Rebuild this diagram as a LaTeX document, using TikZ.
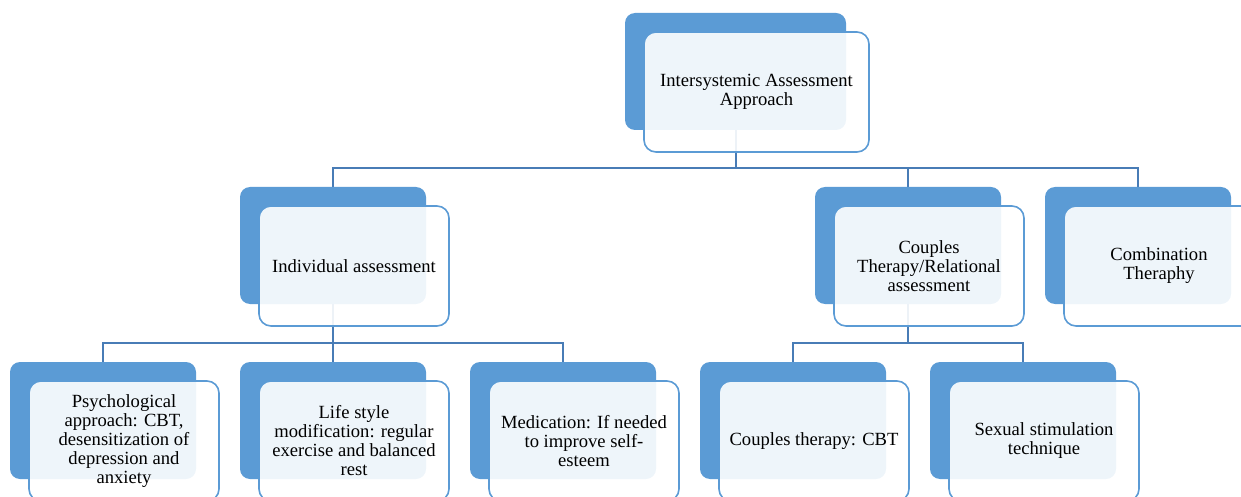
\documentclass[tikz,border=0pt]{standalone}
\usepackage{fontspec}
\setmainfont{Liberation Serif}
\definecolor{accent}{RGB}{91,155,213}
\definecolor{linkc}{RGB}{72,124,182}
\pgfdeclarelayer{bg}
\pgfsetlayers{bg,main}
\tikzset{
  backbox/.style={rectangle, rounded corners=10pt, fill=accent, draw=none, minimum height=117pt, inner sep=0pt},
  frontbox/.style={rectangle, rounded corners=12pt, draw=accent, line width=1.6pt, fill=white, fill opacity=0.9, text opacity=1, minimum height=120pt, inner sep=0pt, align=center, font=\fontsize{18.6}{19}\selectfont, text=black},
  link/.style={draw=linkc, line width=2pt}
}
\newcommand\smartbox[5]{%
  \node[backbox, minimum width=#4pt] (#1) at ({#2+#4/2}, {#3+58.5}) {};
  \node[frontbox, minimum width=#4pt+4pt] (#1F) at ({#2+19+(#4+4)/2}, {#3+79}) {#5};
}
\begin{document}
\begin{tikzpicture}[x=1pt, y=-1pt]
\useasboundingbox (0,0) rectangle (1241,497);
\clip (0,0) rectangle (1241,497);
\smartbox{top}{625}{13}{221}{Intersystemic Assessment\\Approach}
\smartbox{ind}{240}{187}{186}{Individual assessment}
\smartbox{rel}{815}{187}{186}{Couples\\Therapy/Relational\\assessment}
\smartbox{comb}{1045}{187}{186}{Combination\\Theraphy}
\smartbox{psy}{10}{362}{186}{Psychological\\approach: CBT,\\desensitization of\\depression and\\anxiety}
\smartbox{life}{240}{362}{186}{Life style\\modification: regular\\exercise and balanced\\rest}
\smartbox{med}{470}{362}{186}{Medication: If needed\\to improve self-\\esteem}
\smartbox{cbt}{700}{362}{186}{Couples therapy: CBT}
\smartbox{sex}{930}{362}{186}{Sexual stimulation\\technique}
\coordinate (bus1) at (0,168);
\coordinate (bus2) at (0,343);
\begin{pgfonlayer}{bg}
\draw[link] (top.south) -- (top.south |- bus1) -| (ind.north);
\draw[link] (top.south |- bus1) -| (rel.north);
\draw[link] (top.south |- bus1) -| (comb.north);
\draw[link] (ind.south) -- (ind.south |- bus2) -| (psy.north);
\draw[link] (ind.south |- bus2) -- (life.north);
\draw[link] (ind.south |- bus2) -| (med.north);
\draw[link] (rel.south) -- (rel.south |- bus2) -| (cbt.north);
\draw[link] (rel.south |- bus2) -| (sex.north);
\end{pgfonlayer}
\end{tikzpicture}
\end{document}
